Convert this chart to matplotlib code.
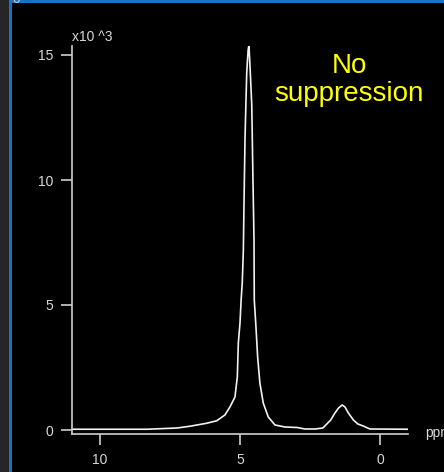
import matplotlib
matplotlib.use("Agg")
import matplotlib.pyplot as plt
from matplotlib.patches import Rectangle

plt.rcParams['font.family'] = ['Liberation Sans', 'DejaVu Sans']

# Spectrum (chemical shift in ppm, signal intensity)
ppm = [11.0, 8.32, 7.25, 6.79, 6.19, 5.83, 5.54, 5.36, 5.18, 5.096, 5.06, 5.0,
       4.96, 4.92, 4.88, 4.857, 4.82, 4.76, 4.71, 4.68, 4.64, 4.58, 4.54, 4.50,
       4.49, 4.43, 4.37, 4.29, 4.17, 3.99, 3.75, 3.39, 2.96, 2.68, 2.32, 2.04,
       1.76, 1.61, 1.48, 1.35, 1.25, 1.13, 0.95, 0.79, 0.60, 0.36, -1.0]
intensity = [30, 30, 80, 150, 270, 370, 600, 920, 1320, 2120, 3480, 4280,
             5200, 5880, 7200, 9080, 11720, 14280, 15200, 15400, 14480, 13000,
             10200, 7600, 5200, 4120, 2920, 1880, 1080, 520, 200, 120, 100, 40,
             40, 80, 400, 680, 880, 1000, 920, 680, 400, 240, 160, 40, 30]

x_ticks = [10, 5, 0]
y_ticks = [0, 5000, 10000, 15000]
y_tick_labels = ['0', '5', '10', '15']
label_text = "No\nsuppression"

W, H = 444, 472
fig = plt.figure(figsize=(W / 100, H / 100), dpi=100, facecolor='black')

# frame decorations
fig.patches.append(Rectangle((0, 0), 9 / W, 1, transform=fig.transFigure,
                             facecolor='#262626', edgecolor='none', zorder=0))
fig.patches.append(Rectangle((9 / W, 0), 2.5 / W, 1, transform=fig.transFigure,
                             facecolor='#1a72c0', edgecolor='none', zorder=1))
fig.patches.append(Rectangle((9 / W, 1 - 3 / H), 1, 3 / H, transform=fig.transFigure,
                             facecolor='#1a72c0', edgecolor='none', zorder=1))
fig.text(12 / W, 1 + 1 / H, "0", color='#c8c8c8', fontsize=10, ha='left', va='center')

ax = fig.add_axes([72 / W, (H - 434) / H, 336 / W, 388 / H])
ax.set_facecolor('black')
ax.plot(ppm, intensity, color='#f2f2f2', lw=1.2, solid_joinstyle='round')
ax.set_xlim(11, -1)
ax.set_ylim(-160, 15360)

axis_col = '#cfcfcf'
for s in ['top', 'right']:
    ax.spines[s].set_visible(False)
for s in ['left', 'bottom']:
    ax.spines[s].set_color(axis_col)
    ax.spines[s].set_linewidth(1.2)

ax.set_xticks(x_ticks)
ax.set_xticklabels([str(t) for t in x_ticks])
ax.set_yticks(y_ticks)
ax.set_yticklabels(y_tick_labels)
ax.tick_params(axis='both', colors=axis_col, labelcolor='#d8d8d8', length=8,
               width=1.2, labelsize=10, direction='out')
ax.tick_params(axis='y', pad=5.5)
ax.tick_params(axis='x', pad=6)

fig.text(72 / W, 1 - 37 / H, "x10 ^3", color='#d8d8d8', fontsize=10,
         ha='left', va='center')
fig.text(425 / W, 1 - 433 / H, "ppm", color='#d8d8d8', fontsize=10,
         ha='left', va='center')
fig.text(349 / W, 1 - 80 / H, label_text, color='#ffff00', fontsize=20,
         ha='center', va='center', linespacing=1.12)

fig.savefig("out.png", dpi=100, facecolor='black')
